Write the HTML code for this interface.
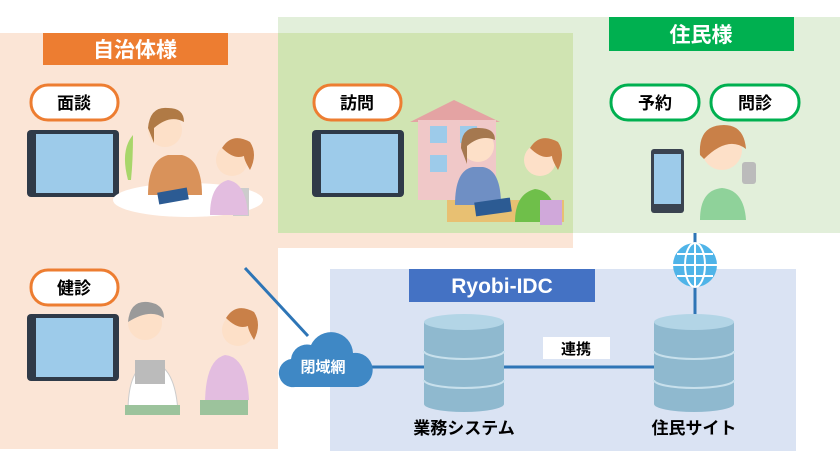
<!DOCTYPE html>
<html><head><meta charset="utf-8"><style>
html,body{margin:0;padding:0;background:#fff;}
svg{display:block}
text{font-family:"Liberation Sans","Noto Sans CJK JP",sans-serif;font-weight:bold;}
</style></head><body>
<svg width="840" height="451" viewBox="0 0 840 451" xmlns="http://www.w3.org/2000/svg">
<!-- backgrounds -->
<rect x="0" y="33" width="573" height="215" fill="#fbe5d6"/>
<rect x="0" y="33" width="278" height="416" fill="#fbe5d6"/>
<rect x="278" y="17" width="562" height="216" fill="#e2efda"/>
<rect x="278" y="33" width="295" height="200" fill="#d0e4b2"/>
<rect x="330" y="269" width="466" height="182" fill="#dae3f3"/>

<!-- headers -->
<rect x="43" y="33" width="185" height="32" fill="#ed7d31"/>
<text x="135" y="57" font-size="21" fill="#fff" text-anchor="middle">自治体様</text>
<rect x="609" y="17" width="185" height="34" fill="#00b050"/>
<text x="701" y="42" font-size="21" fill="#fff" text-anchor="middle">住民様</text>
<rect x="409" y="269" width="186" height="33" fill="#4472c4"/>
<text x="502" y="293" font-size="21" fill="#fff" text-anchor="middle">Ryobi-IDC</text>

<!-- pills -->
<g font-size="17" text-anchor="middle" fill="#000">
<rect x="31" y="85" width="87" height="35" rx="17" fill="#fff" stroke="#ed7d31" stroke-width="3"/>
<text x="74" y="109">面談</text>
<rect x="314" y="85" width="87" height="35" rx="17" fill="#fff" stroke="#ed7d31" stroke-width="3"/>
<text x="357" y="109">訪問</text>
<rect x="31" y="270" width="87" height="35" rx="17" fill="#fff" stroke="#ed7d31" stroke-width="3"/>
<text x="74" y="294">健診</text>
<rect x="611" y="85" width="88" height="35" rx="17" fill="#fff" stroke="#00b050" stroke-width="3"/>
<text x="655" y="109">予約</text>
<rect x="711" y="85" width="88" height="35" rx="17" fill="#fff" stroke="#00b050" stroke-width="3"/>
<text x="755" y="109">問診</text>
</g>

<!-- tablets -->
<g>
<rect x="27" y="130" width="92" height="67" rx="4" fill="#2f3a48"/>
<rect x="36" y="134" width="77" height="59" fill="#9dcbea"/>
<rect x="312" y="130" width="92" height="67" rx="4" fill="#2f3a48"/>
<rect x="321" y="134" width="77" height="59" fill="#9dcbea"/>
<rect x="27" y="314" width="92" height="67" rx="4" fill="#2f3a48"/>
<rect x="36" y="318" width="77" height="59" fill="#9dcbea"/>
<rect x="651" y="149" width="33" height="64" rx="3" fill="#3a4350"/>
<rect x="654" y="154" width="27" height="50" fill="#9dcbea"/>
</g>

<!-- scene 1: meeting -->
<path d="M128 180 q-8 -30 5 -45 q0 25 -2 45z" fill="#a8d66a"/>
<ellipse cx="188" cy="200" rx="75" ry="17" fill="#fff"/>
<rect x="233" y="188" width="16" height="28" fill="#ccc"/>
<path d="M148 195 q0 -35 20 -40 h14 q20 5 20 40z" fill="#d9925a"/>
<circle cx="165" cy="130" r="17" fill="#fde0c8"/>
<path d="M148 128 q2 -22 20 -20 q16 0 16 14 q-14 -8 -30 6 v15z" fill="#b07a45"/>
<path d="M210 215 q0 -30 18 -35 q18 3 20 35z" fill="#e3bde0"/>
<circle cx="232" cy="160" r="16" fill="#fde0c8"/>
<path d="M222 148 q10 -16 28 -6 q8 12 0 28 q-6 -10 -6 -14 q-10 4 -22 -8z" fill="#c98048"/>
<rect x="158" y="190" width="30" height="12" fill="#2c5b93" transform="rotate(-10 173 196)"/>

<!-- scene 2: visit -->
<path d="M410 122 l44 -22 l46 22z" fill="#e4a3a3"/>
<rect x="418" y="120" width="78" height="80" fill="#f0c8c8"/>
<rect x="430" y="126" width="17" height="17" fill="#9dcbea"/>
<rect x="460" y="126" width="17" height="17" fill="#9dcbea"/>
<rect x="430" y="155" width="17" height="17" fill="#9dcbea"/>
<rect x="447" y="200" width="117" height="22" fill="#e8c072"/>
<path d="M455 205 q0 -35 18 -38 h10 q18 3 18 38z" fill="#6f8fc4"/>
<circle cx="478" cy="146" r="16" fill="#fde0c8"/>
<path d="M461 148 q0 -22 18 -20 q16 0 16 12 q-14 -6 -28 6 v18z" fill="#a5784f"/>
<path d="M515 222 q0 -28 20 -33 q20 2 22 33z" fill="#6fbf4a"/>
<circle cx="540" cy="160" r="16" fill="#fde0c8"/>
<path d="M530 148 q10 -16 28 -6 q8 12 0 28 q-6 -10 -6 -14 q-10 4 -22 -8z" fill="#c98048"/>
<rect x="540" y="200" width="22" height="25" fill="#d0a8da"/>
<rect x="475" y="200" width="36" height="14" fill="#2c5b93" transform="rotate(-8 493 207)"/>

<!-- scene 3: resident -->
<path d="M700 220 q0 -30 22 -32 q22 2 24 32z" fill="#8fd29a"/>
<circle cx="722" cy="150" r="20" fill="#fde0c8"/>
<path d="M700 155 q-2 -30 24 -30 q20 0 22 24 q-18 -14 -42 10z" fill="#c98048"/>
<rect x="742" y="162" width="14" height="22" rx="3" fill="#bbb"/>

<!-- scene 4: checkup -->
<path d="M128 412 q0 -45 22 -50 q25 2 28 50z" fill="#fff" stroke="#ccc"/>
<circle cx="145" cy="323" r="17" fill="#fde0c8"/>
<path d="M128 322 q2 -22 20 -20 q16 2 16 16 q-14 -10 -36 4z" fill="#9a9a9a"/>
<rect x="135" y="360" width="30" height="24" fill="#bbb"/>
<rect x="125" y="405" width="55" height="10" fill="#9cc39c"/>
<path d="M205 405 q0 -45 20 -50 q22 2 24 45z" fill="#e3bde0"/>
<circle cx="238" cy="330" r="16" fill="#fde0c8"/>
<path d="M226 318 q10 -16 28 -6 q8 12 0 28 q-6 -10 -6 -14 q-10 4 -22 -8z" fill="#c98048"/>
<rect x="200" y="400" width="48" height="15" fill="#9cc39c"/>

<!-- connectors -->
<line x1="245" y1="268" x2="308" y2="336" stroke="#2e75b6" stroke-width="3"/>
<line x1="365" y1="367" x2="655" y2="367" stroke="#2e75b6" stroke-width="3"/>
<line x1="695" y1="233" x2="695" y2="318" stroke="#2e75b6" stroke-width="3"/>

<!-- cloud -->
<path d="M295 387 a14 14 0 0 1 -4 -28 a16 16 0 0 1 20 -14 a22 22 0 0 1 42 8 a17 17 0 0 1 5 34z" fill="#3f88c5"/>
<text x="323" y="372" font-size="15" fill="#fff" text-anchor="middle">閉域網</text>

<!-- globe -->
<circle cx="695" cy="265" r="22" fill="#4fb4e8"/>
<g stroke="#fff" stroke-width="2" fill="none">
<ellipse cx="695" cy="265" rx="10" ry="22"/>
<line x1="695" y1="243" x2="695" y2="287"/>
<line x1="673" y1="265" x2="717" y2="265"/>
<line x1="677" y1="254" x2="713" y2="254"/>
<line x1="677" y1="276" x2="713" y2="276"/>
</g>

<!-- DBs -->
<g>
<path d="M424 322 v82 a40 8 0 0 0 80 0 v-82z" fill="#8fb9cf"/>
<ellipse cx="464" cy="322" rx="40" ry="8" fill="#b3d5e6"/>
<path d="M424 351 a40 8 0 0 0 80 0" stroke="#c8e0ec" stroke-width="2" fill="none"/>
<path d="M424 380 a40 8 0 0 0 80 0" stroke="#c8e0ec" stroke-width="2" fill="none"/>
<path d="M654 322 v82 a40 8 0 0 0 80 0 v-82z" fill="#8fb9cf"/>
<ellipse cx="694" cy="322" rx="40" ry="8" fill="#b3d5e6"/>
<path d="M654 351 a40 8 0 0 0 80 0" stroke="#c8e0ec" stroke-width="2" fill="none"/>
<path d="M654 380 a40 8 0 0 0 80 0" stroke="#c8e0ec" stroke-width="2" fill="none"/>
</g>

<rect x="543" y="337" width="67" height="22" fill="#fff"/>
<text x="576" y="354" font-size="15" fill="#000" text-anchor="middle">連携</text>
<text x="464" y="434" font-size="17" fill="#000" text-anchor="middle">業務システム</text>
<text x="694" y="434" font-size="17" fill="#000" text-anchor="middle">住民サイト</text>
</svg>
</body></html>
